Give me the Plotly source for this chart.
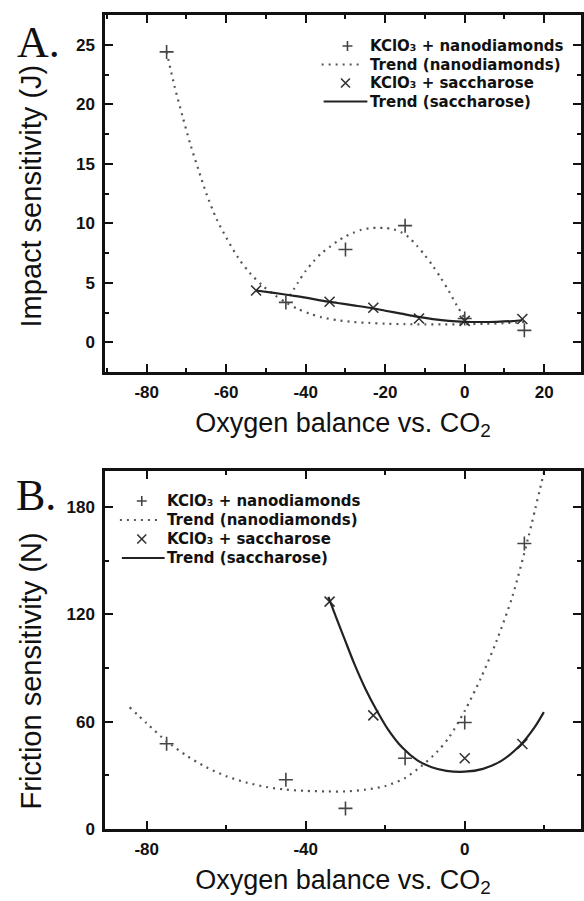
import plotly.graph_objects as go

# ---------------- data ----------------
# Panel A: impact sensitivity (J)
a_nano_x = [-75, -45, -30, -15, 0, 15]
a_nano_y = [24.4, 3.35, 7.8, 9.8, 2.0, 1.0]

a_trend_nano_x = [-75, -73, -71, -69, -67, -65, -62.5, -60, -57, -54, -51, -48, -45, -42, -39, -36, -32, -28, -24, -20, -15, -10, -5, 0, 5, 10, 15,
                  None,
                  -44, -42, -40, -38, -36, -34, -32, -30, -28, -26, -24, -22, -20, -18, -16, -14, -12, -10, -8, -6, -4, -2, 0]
a_trend_nano_y = [24.4, 21.5, 19.0, 16.6, 14.5, 12.5, 10.4, 8.8, 7.1, 5.8, 4.8, 4.0, 3.35, 2.8, 2.4, 2.1, 1.85, 1.7, 1.62, 1.56, 1.52, 1.5, 1.5, 1.52, 1.55, 1.6, 1.7,
                  None,
                  3.9, 5.0, 6.0, 6.8, 7.5, 8.0, 8.5, 8.9, 9.2, 9.45, 9.58, 9.62, 9.6, 9.5, 9.25, 8.8, 8.1, 7.3, 6.4, 5.4, 4.3, 3.1, 2.0]

a_sacch_x = [-52.5, -34, -23, -11.5, 0, 14.5]
a_sacch_y = [4.35, 3.4, 2.9, 2.0, 1.8, 1.95]

a_trend_sacch_x = [-52.5, -48, -44, -40, -36, -32, -28, -24, -20, -16, -12, -8, -4, 0, 4, 8, 12, 14.5]
a_trend_sacch_y = [4.35, 4.15, 3.95, 3.75, 3.5, 3.3, 3.1, 2.9, 2.65, 2.4, 2.15, 1.95, 1.8, 1.72, 1.7, 1.72, 1.78, 1.85]

# Panel B: friction sensitivity (N)
b_nano_x = [-75, -45, -30, -15, 0, 15]
b_nano_y = [47.6, 27.5, 11.5, 39.5, 59.5, 159.5]

b_trend_nano_x = [-84.3, -80, -75, -70, -65, -60, -55, -50, -45, -40, -35, -30, -25, -20, -15, -11, -7, -4, 0, 4, 8, 12, 16, 20]
b_trend_nano_y = [68, 59, 49, 41, 34.5, 29.5, 26, 23.5, 22, 21.3, 21, 21, 22, 24, 28.5, 35, 43, 51, 66, 84, 105, 130, 163, 200]

b_sacch_x = [-34, -23, 0, 14.5]
b_sacch_y = [127, 63.5, 39.5, 47.5]

b_trend_sacch_x = [-34.3, -32.4, -30.1, -27.8, -25.0, -22.2, -19.4, -15.7, -12.0, -8.3, -4.6, 0, 4.6, 9.3, 13.9, 17.6, 19.9]
b_trend_sacch_y = [129.7, 118.5, 105.4, 92.4, 78.4, 66.5, 56.0, 45.5, 38.5, 34.5, 32.5, 32.0, 33.6, 38.2, 46.6, 56.9, 65.3]

# tick labels
a_xtick_vals = [-80, -60, -40, -20, 0, 20]
a_xtick_text = ["-80", "-60", "-40", "-20", "0", "20"]
a_ytick_vals = [0, 5, 10, 15, 20, 25]
b_xtick_vals = [-80, -40, 0]
b_xtick_text = ["-80", "-40", "0"]
b_ytick_vals = [0, 60, 120, 180]

names = ["KClO₃ + nanodiamonds", "Trend (nanodiamonds)",
         "KClO₃ + saccharose", "Trend (saccharose)"]

# ---------------- figure ----------------
FONT = "Liberation Sans"
W, H = 584, 901
ML, MR, MT, MB = 105, 0, 15, 72
PW = W - ML - MR
PH = H - MT - MB

def py(pix):  # pixel y -> paper y
    return (H - MB - pix) / PH

def px(pix):  # pixel x -> paper x
    return (pix - ML) / PW

fig = go.Figure()

PLUS_C, X_C, DOT_C, SOL_C = "#444", "#333", "#555", "#222"
plus_style = dict(symbol="cross-thin-open", size=10, color=PLUS_C, line=dict(width=1.6, color=PLUS_C))
x_style = dict(symbol="x-thin-open", size=10, color=X_C, line=dict(width=1.6, color=X_C))
DOT_DASH = "2px,5px"
dot_line = dict(color=DOT_C, width=2.2, dash=DOT_DASH)
solid_line = dict(color=SOL_C, width=2.2)

for (xa, ya, nx, ny, tnx, tny, sx, sy, tsx, tsy) in [
    ("x", "y", a_nano_x, a_nano_y, a_trend_nano_x, a_trend_nano_y,
     a_sacch_x, a_sacch_y, a_trend_sacch_x, a_trend_sacch_y),
    ("x2", "y2", b_nano_x, b_nano_y, b_trend_nano_x, b_trend_nano_y,
     b_sacch_x, b_sacch_y, b_trend_sacch_x, b_trend_sacch_y),
]:
    fig.add_trace(go.Scatter(x=nx, y=ny, mode="markers", marker=plus_style, name=names[0],
                             xaxis=xa, yaxis=ya, showlegend=False))
    fig.add_trace(go.Scatter(x=tnx, y=tny, mode="lines", line=dict(shape="spline", smoothing=0.8, **dot_line),
                             name=names[1], xaxis=xa, yaxis=ya, showlegend=False, connectgaps=False))
    fig.add_trace(go.Scatter(x=sx, y=sy, mode="markers", marker=x_style, name=names[2],
                             xaxis=xa, yaxis=ya, showlegend=False))
    fig.add_trace(go.Scatter(x=tsx, y=tsy, mode="lines", line=dict(shape="spline", smoothing=0.8, **solid_line),
                             name=names[3], xaxis=xa, yaxis=ya, showlegend=False))

# ---- legends (key symbols + text), placed in pixels ----
shapes = []
annotations = []
leg_font = dict(family="DejaVu Sans", size=15, color="#111", weight="bold")

def add_legend(plus_x, x_x, line_x0, line_x1, text_x, rows):
    r = 5
    x0, y0 = plus_x, rows[0]
    shapes.append(dict(type="path", xref="paper", yref="paper",
                       path=f"M{px(x0 - r)},{py(y0)} L{px(x0 + r)},{py(y0)} M{px(x0)},{py(y0 - r)} L{px(x0)},{py(y0 + r)}",
                       line=dict(color=PLUS_C, width=1.6)))
    shapes.append(dict(type="line", xref="paper", yref="paper", x0=px(line_x0), x1=px(line_x1),
                       y0=py(rows[1]), y1=py(rows[1]), line=dict(color=DOT_C, width=2.2, dash=DOT_DASH)))
    r = 4.5
    x0, y0 = x_x, rows[2]
    shapes.append(dict(type="path", xref="paper", yref="paper",
                       path=f"M{px(x0 - r)},{py(y0 - r)} L{px(x0 + r)},{py(y0 + r)} M{px(x0 - r)},{py(y0 + r)} L{px(x0 + r)},{py(y0 - r)}",
                       line=dict(color=X_C, width=1.6)))
    shapes.append(dict(type="line", xref="paper", yref="paper", x0=px(line_x0 + 2), x1=px(line_x1 + 5),
                       y0=py(rows[3]), y1=py(rows[3]), line=dict(color=SOL_C, width=2.2)))
    for name, ry in zip(names, rows):
        annotations.append(dict(text=name, xref="paper", yref="paper", x=px(text_x), y=py(ry),
                                xanchor="left", yanchor="middle", showarrow=False, font=leg_font,
                                borderpad=0))

add_legend(plus_x=349, x_x=347, line_x0=323, line_x1=364, text_x=371, rows=[46, 64.5, 83, 101.5])
add_legend(plus_x=142, x_x=142, line_x0=120, line_x1=160, text_x=166, rows=[501, 520, 539, 558])

# panel letters and y titles
ytitle_font = dict(family=FONT, size=29, color="#111")
annotations += [
    dict(text="A.", xref="paper", yref="paper", x=px(38), y=py(43), xanchor="center", yanchor="middle",
         showarrow=False, font=dict(family="Liberation Serif", size=44, color="#111")),
    dict(text="B.", xref="paper", yref="paper", x=px(36), y=py(495), xanchor="center", yanchor="middle",
         showarrow=False, font=dict(family="Liberation Serif", size=44, color="#111")),
    dict(text="Impact sensitivity (J)", xref="paper", yref="paper", x=px(31), y=py(196), textangle=-90,
         xanchor="center", yanchor="middle", showarrow=False, font=ytitle_font),
    dict(text="Friction sensitivity (N)", xref="paper", yref="paper", x=px(31), y=py(671), textangle=-90,
         xanchor="center", yanchor="middle", showarrow=False, font=ytitle_font),
]

axis_common = dict(showline=True, linewidth=2.5, linecolor="#111", mirror="allticks",
                   ticks="inside", ticklen=8, tickwidth=2, tickcolor="#111",
                   showgrid=False, zeroline=False,
                   tickfont=dict(family=FONT, size=17, color="#111", weight="bold"))
xtitle_font = dict(family=FONT, size=27, color="#111")

xr = [-90.5, -90.5 + PW / 4.0]

fig.update_layout(
    width=W, height=H, autosize=False,
    margin=dict(l=ML, r=MR, t=MT, b=MB),
    paper_bgcolor="white", plot_bgcolor="white",
    showlegend=False,
    xaxis=dict(domain=[0, 1], range=xr, anchor="y", tickmode="array", tickvals=a_xtick_vals, ticktext=a_xtick_text,
               minor=dict(dtick=10, tick0=0, ticks="inside", ticklen=4, tickwidth=2, tickcolor="#111"),
               title=dict(text="Oxygen balance vs. CO<sub>2</sub>", font=xtitle_font, standoff=12),
               ticklabelstandoff=3, **axis_common),
    yaxis=dict(domain=[py(372), 1], range=[-2.5, 27.5], anchor="x", tickmode="array", tickvals=a_ytick_vals,
               minor=dict(dtick=2.5, tick0=0, ticks="inside", ticklen=4, tickwidth=2, tickcolor="#111"),
               ticklabelstandoff=4, **axis_common),
    xaxis2=dict(domain=[0, 1], range=xr, anchor="y2", tickmode="array", tickvals=b_xtick_vals, ticktext=b_xtick_text,
                minor=dict(dtick=20, tick0=0, ticks="inside", ticklen=4, tickwidth=2, tickcolor="#111"),
                title=dict(text="Oxygen balance vs. CO<sub>2</sub>", font=xtitle_font, standoff=12),
                ticklabelstandoff=3, **axis_common),
    yaxis2=dict(domain=[0, py(471)], range=[0, 200], anchor="x2", tickmode="array", tickvals=b_ytick_vals,
                minor=dict(dtick=30, tick0=0, ticks="inside", ticklen=4, tickwidth=2, tickcolor="#111"),
                ticklabelstandoff=4, **axis_common),
    shapes=shapes,
    annotations=annotations,
)

fig.write_html("out.html")
